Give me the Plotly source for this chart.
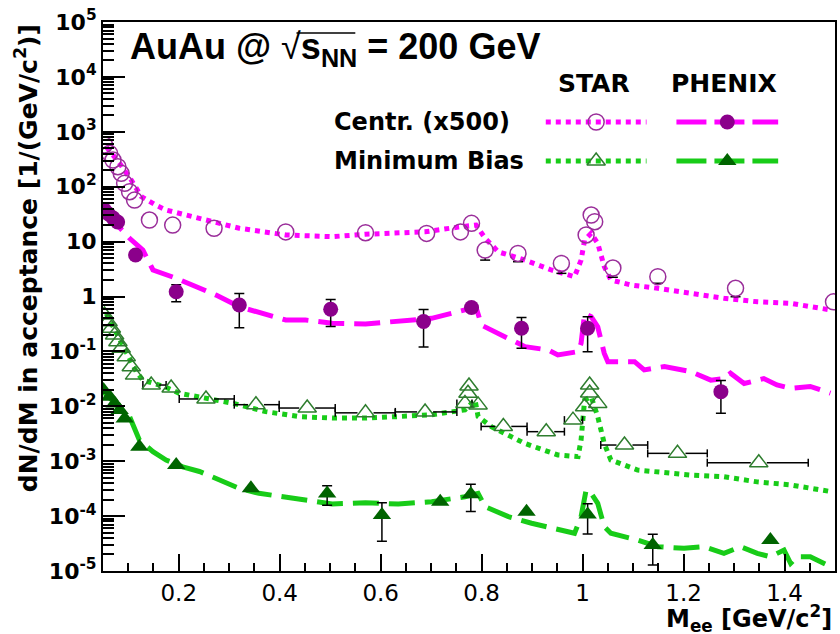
import plotly.graph_objects as go

# ---------------- data ----------------
# STAR central (x500), open circles
star_cen_x = [0.053, 0.063, 0.0697, 0.0795, 0.086, 0.0928, 0.1026, 0.1125, 0.142, 0.188,
              0.270, 0.412, 0.570, 0.691, 0.758, 0.780, 0.807, 0.872, 0.958, 1.007,
              1.017, 1.024, 1.060, 1.149, 1.303, 1.497]
star_cen_y = [575, 405, 306, 231, 175, 115, 81, 57, 24.7, 20,
              17.5, 15, 14.5, 14.1, 15, 21.5, 7.0, 6.1, 4.0, 13.2,
              30.5, 23, 3.3, 2.3, 1.41, 0.80]
star_cen_lo = [None] * 16 + [4.6, 4.3, 2.64, None, None, None, 2.24, 1.74, 0.99, None]

# STAR central cocktail
star_cen_cx = [0.057, 0.083, 0.106, 0.126, 0.155, 0.175, 0.228, 0.267, 0.320, 0.412,
               0.504, 0.570, 0.688, 0.754, 0.789, 0.807, 0.833, 0.886, 0.938, 0.984,
               0.997, 1.004, 1.017, 1.030, 1.043, 1.056, 1.096, 1.149, 1.214, 1.280,
               1.346, 1.412, 1.491]
star_cen_cy = [525, 267, 132, 66, 46, 37.6, 28.4, 23, 17.5, 13.2,
               12.3, 13.6, 15.1, 18.4, 20, 11.5, 6.5, 4.6, 3.04, 2.3,
               4.6, 10.7, 14.2, 9.3, 3.5, 2.0, 1.62, 1.41, 1.14, 0.93,
               0.80, 0.75, 0.57]

# PHENIX central (x500), filled circles
phx_cen_x = [0.053, 0.061, 0.070, 0.079, 0.1145, 0.195, 0.320, 0.501, 0.685, 0.780,
             0.879, 1.010, 1.274]
phx_cen_y = [37.7, 31.8, 26.9, 22.8, 5.7, 1.22, 0.70, 0.585, 0.35, 0.63,
             0.264, 0.264, 0.0185]
phx_cen_err = [0, 0, 0, 0, 0, 0.42, 0.43, 0.30, 0.23, 0,
               0.15, 0.165, 0.011]

# PHENIX central cocktail
phx_cen_cx = [0.053, 0.063, 0.1026, 0.129, 0.149, 0.195, 0.241, 0.274, 0.320, 0.412,
              0.451, 0.504, 0.570, 0.635, 0.701, 0.767, 0.789, 0.800, 0.833, 0.859,
              0.886, 0.932, 0.951, 0.991, 0.997, 1.004, 1.017, 1.030, 1.043, 1.050,
              1.103, 1.122, 1.162, 1.214, 1.254, 1.280, 1.293, 1.320, 1.359, 1.385,
              1.412, 1.451, 1.491]
phx_cen_cy = [36, 28.4, 11.5, 7.0, 3.04, 2.15, 1.41, 1.06, 0.65, 0.373,
              0.373, 0.325, 0.316, 0.348, 0.40, 0.57, 0.63, 0.30, 0.214, 0.162,
              0.122, 0.106, 0.086, 0.099, 0.14, 0.49, 0.43, 0.28, 0.092, 0.065,
              0.065, 0.046, 0.053, 0.043, 0.030, 0.032, 0.040, 0.026, 0.032, 0.0245,
              0.0213, 0.023, 0.0173]

# STAR minimum bias, open triangles with mass-bin widths
star_mb_x = [0.053, 0.060, 0.0665, 0.073, 0.0795, 0.086, 0.096, 0.106, 0.1125, 0.1455,
             0.185, 0.254, 0.353, 0.4545, 0.570, 0.688, 0.767, 0.775, 0.773, 0.793,
             0.843, 0.928, 0.981, 1.004, 1.014, 1.014, 1.030, 1.083, 1.188, 1.349]
star_mb_y = [0.46, 0.348, 0.264, 0.199, 0.150, 0.114, 0.080, 0.0526, 0.037, 0.0244,
             0.0216, 0.0136, 0.0107, 0.0093, 0.0076, 0.0079, 0.0113, 0.0234, 0.0173, 0.0106,
             0.0043, 0.00345, 0.0056, 0.0098, 0.0245, 0.0175, 0.0113, 0.00197, 0.00139, 0.00094]
star_mb_xlo = [None] * 9 + [0.129, None, 0.201, 0.310, 0.399, 0.510, 0.629, 0.751,
                            None, None, None, 0.799, 0.890, 0.964, None, None, None,
                            None, 1.036, 1.129, 1.247]
star_mb_xhi = [None] * 9 + [0.175, None, 0.310, 0.399, 0.510, 0.629, 0.751, 0.781,
                            None, None, None, 0.890, 0.964, 1.000, None, None, None,
                            None, 1.129, 1.247, 1.447]

# STAR minimum bias cocktail
star_mb_cx = [0.0566, 0.116, 0.129, 0.175, 0.201, 0.241, 0.3065, 0.372, 0.438, 0.504,
              0.570, 0.635, 0.701, 0.767, 0.787, 0.793, 0.820, 0.886, 0.951, 0.991,
              0.997, 1.004, 1.017, 1.030, 1.043, 1.056, 1.109, 1.214, 1.280, 1.346,
              1.412, 1.491]
star_mb_cy = [0.49, 0.0427, 0.030, 0.0222, 0.0173, 0.015, 0.0114, 0.0080, 0.0065, 0.0061,
              0.0061, 0.0065, 0.0070, 0.0086, 0.013, 0.0065, 0.0042, 0.0021, 0.0013, 0.00121,
              0.00243, 0.013, 0.015, 0.0065, 0.0021, 0.00105, 0.00069, 0.00056, 0.00052, 0.00042,
              0.00037, 0.00028]

# PHENIX minimum bias, filled triangles
phx_mb_x = [0.051, 0.063, 0.073, 0.083, 0.093, 0.122, 0.195, 0.343, 0.494, 0.6025,
            0.718, 0.7786, 0.889, 1.010, 1.139, 1.372]
phx_mb_y = [0.0198, 0.015, 0.0113, 0.0086, 0.0060, 0.00184, 0.00085, 0.00032, 0.000258, 0.000105,
            0.000183, 0.000251, 0.00012, 0.000107, 0.0000298, 0.0000367]
phx_mb_err = [0, 0, 0, 0, 0, 0, 0, 0, 0.0001, 0.00007,
              0, 0.00013, 0, 0.00006, 0.000017, 0]

# PHENIX minimum bias cocktail
phx_mb_cx = [0.0513, 0.1026, 0.122, 0.149, 0.175, 0.208, 0.241, 0.280, 0.320, 0.359,
             0.412, 0.451, 0.504, 0.570, 0.635, 0.701, 0.767, 0.793, 0.807, 0.853,
             0.899, 0.951, 0.984, 0.997, 1.007, 1.017, 1.030, 1.043, 1.056, 1.109,
             1.149, 1.201, 1.241, 1.280, 1.313, 1.346, 1.372, 1.399, 1.412, 1.425,
             1.451, 1.491]
phx_mb_cy = [0.018, 0.0065, 0.00243, 0.00149, 0.00105, 0.00079, 0.00065, 0.00046, 0.00032, 0.00026,
             0.000225, 0.000196, 0.000166, 0.000175, 0.000166, 0.000183, 0.000225, 0.00026, 0.000148, 0.0000977,
             0.0000741, 0.0000559, 0.0000486, 0.0000977, 0.000299, 0.00026, 0.000171, 0.0000641, 0.0000486, 0.0000367,
             0.0000277, 0.0000259, 0.0000277, 0.000021, 0.0000277, 0.000021, 0.0000182, 0.0000241, 0.0000138, 0.0000182,
             0.0000182, 0.000012]

# axis ticks
x_ticks = [0.2, 0.4, 0.6, 0.8, 1.0, 1.2, 1.4]
x_ticktext = ["0.2", "0.4", "0.6", "0.8", "1", "1.2", "1.4"]
y_ticks = [1e5, 1e4, 1e3, 1e2, 10, 1, 1e-1, 1e-2, 1e-3, 1e-4, 1e-5]
y_ticktext = ["<b>10<sup>5</sup></b>", "<b>10<sup>4</sup></b>", "<b>10<sup>3</sup></b>",
              "<b>10<sup>2</sup></b>", "<b>10</b>", "<b>1</b>",
              "<b>10<sup>-1</sup></b>", "<b>10<sup>-2</sup></b>", "<b>10<sup>-3</sup></b>",
              "<b>10<sup>-4</sup></b>", "<b>10<sup>-5</sup></b>"]

# ---------------- styling ----------------
W, H = 840, 634
ML, MR, MT, MB = 103, 3, 22, 63
PLOT_W = W - ML - MR
PLOT_H = H - MT - MB
X0, X1 = 0.05, 1.5
PX_PER_DEC = PLOT_H / 10.0
PX_PER_X = PLOT_W / (X1 - X0)

MAGENTA = "#FF00FF"
PURPLE_OPEN = "#9A2E9A"
PURPLE_FILL = "#8B008B"
GREEN = "#18CC18"
GREEN_OPEN = "#2E7D2E"
GREEN_FILL = "#006400"
FONT = "DejaVu Sans"

CIRCLE_R = 8
TRI_R = 8


def lower_bar_segments(xs, ys, lows, r_px, cap_px=5):
    """Vertical error bars drawn only below the (hollow) marker, ROOT style."""
    sx, sy = [], []
    dx = cap_px / PX_PER_X
    for x, y, lo in zip(xs, ys, lows):
        if lo is None:
            continue
        top = y * 10 ** (-r_px / PX_PER_DEC)
        sx += [x, x, None, x - dx, x + dx, None]
        sy += [top, lo, None, lo, lo, None]
    return sx, sy


def horiz_bar_segments(xs, ys, xlo, xhi, r_px, cap_px=4):
    """Horizontal bin-width bars interrupted by the hollow marker, with end ticks."""
    sx, sy = [], []
    gap = r_px / PX_PER_X
    f = 10 ** (cap_px / PX_PER_DEC)
    for x, y, a, b in zip(xs, ys, xlo, xhi):
        if a is None:
            continue
        if x - gap > a:
            sx += [a, x - gap, None]
            sy += [y, y, None]
        if x + gap < b:
            sx += [x + gap, b, None]
            sy += [y, y, None]
        sx += [a, a, None, b, b, None]
        sy += [y / f, y * f, None, y / f, y * f, None]
    return sx, sy


fig = go.Figure()

# cocktails
fig.add_trace(go.Scatter(x=star_cen_cx, y=star_cen_cy, mode="lines",
                         line=dict(color=MAGENTA, width=5, dash="dot"), hoverinfo="skip"))
fig.add_trace(go.Scatter(x=phx_cen_cx, y=phx_cen_cy, mode="lines",
                         line=dict(color=MAGENTA, width=5, dash="26px,10px"), hoverinfo="skip"))
fig.add_trace(go.Scatter(x=star_mb_cx, y=star_mb_cy, mode="lines",
                         line=dict(color=GREEN, width=5, dash="dot"), hoverinfo="skip"))
fig.add_trace(go.Scatter(x=phx_mb_cx, y=phx_mb_cy, mode="lines",
                         line=dict(color=GREEN, width=5, dash="26px,10px"), hoverinfo="skip"))

# STAR error bars
ex, ey = lower_bar_segments(star_cen_x, star_cen_y, star_cen_lo, CIRCLE_R)
fig.add_trace(go.Scatter(x=ex, y=ey, mode="lines", line=dict(color="black", width=1.5),
                         hoverinfo="skip"))
hx, hy = horiz_bar_segments(star_mb_x, star_mb_y, star_mb_xlo, star_mb_xhi, TRI_R)
fig.add_trace(go.Scatter(x=hx, y=hy, mode="lines", line=dict(color="black", width=1.5),
                         hoverinfo="skip"))

# data points
open_circle = dict(symbol="circle-open", size=2 * CIRCLE_R, color=PURPLE_OPEN,
                   line=dict(color=PURPLE_OPEN, width=1.5))
filled_circle = dict(symbol="circle", size=15, color=PURPLE_FILL)
open_tri = dict(symbol="triangle-up-open", size=16, color=GREEN_OPEN,
                line=dict(color=GREEN_OPEN, width=1.5))
filled_tri = dict(symbol="triangle-up", size=16, color=GREEN_FILL)

fig.add_trace(go.Scatter(x=star_cen_x, y=star_cen_y, mode="markers", marker=open_circle))
fig.add_trace(go.Scatter(x=phx_cen_x, y=phx_cen_y, mode="markers",
                         error_y=dict(type="data", array=phx_cen_err, color="black",
                                      thickness=1.5, width=5),
                         marker=filled_circle))
fig.add_trace(go.Scatter(x=star_mb_x, y=star_mb_y, mode="markers", marker=open_tri))
fig.add_trace(go.Scatter(x=phx_mb_x, y=phx_mb_y, mode="markers",
                         error_y=dict(type="data", array=phx_mb_err, color="black",
                                      thickness=1.5, width=5),
                         marker=filled_tri))

# ---------------- legend block (pixel-coordinate overlay axes) ----------------
leg_rows = [122, 161]
star_seg = [547, 648]
phx_seg = [678, 780]
for row, col in zip(leg_rows, [MAGENTA, GREEN]):
    fig.add_trace(go.Scatter(x=star_seg, y=[row] * 2, xaxis="x2", yaxis="y2", mode="lines",
                             line=dict(color=col, width=5, dash="dot"), hoverinfo="skip"))
    fig.add_trace(go.Scatter(x=phx_seg, y=[row] * 2, xaxis="x2", yaxis="y2", mode="lines",
                             line=dict(color=col, width=5, dash="30px,8px"), hoverinfo="skip"))
star_mid = sum(star_seg) / 2
phx_mid = sum(phx_seg) / 2
fig.add_trace(go.Scatter(x=[star_mid], y=[leg_rows[0]], xaxis="x2", yaxis="y2",
                         mode="markers", marker=open_circle))
fig.add_trace(go.Scatter(x=[phx_mid], y=[leg_rows[0]], xaxis="x2", yaxis="y2",
                         mode="markers", marker=filled_circle))
fig.add_trace(go.Scatter(x=[star_mid], y=[leg_rows[1]], xaxis="x2", yaxis="y2",
                         mode="markers", marker=open_tri))
fig.add_trace(go.Scatter(x=[phx_mid], y=[leg_rows[1]], xaxis="x2", yaxis="y2",
                         mode="markers", marker=filled_tri))

annotations = [
    dict(x=128, y=49, xref="x2", yref="y2", xanchor="left", yanchor="middle", showarrow=False,
         text="<b>AuAu @ </b><span style='font-weight:normal'>√</span><b>s<sub>NN</sub> = 200 GeV</b>",
         font=dict(family="Liberation Sans, Arial", size=36, color="black")),
    dict(x=595, y=83, xref="x2", yref="y2", xanchor="center", yanchor="middle", showarrow=False,
         text="<b>STAR</b>", font=dict(family=FONT, size=25, color="black")),
    dict(x=726, y=83, xref="x2", yref="y2", xanchor="center", yanchor="middle", showarrow=False,
         text="<b>PHENIX</b>", font=dict(family=FONT, size=25, color="black")),
    dict(x=333, y=leg_rows[0], xref="x2", yref="y2", xanchor="left", yanchor="middle", showarrow=False,
         text="<b>Centr. (x500)</b>", font=dict(family=FONT, size=24, color="black")),
    dict(x=333, y=leg_rows[1], xref="x2", yref="y2", xanchor="left", yanchor="middle", showarrow=False,
         text="<b>Minimum Bias</b>", font=dict(family=FONT, size=24, color="black")),
    dict(x=(26 - ML) / PLOT_W, y=(H - MB - 258) / PLOT_H, xref="paper", yref="paper",
         xanchor="center", yanchor="middle", showarrow=False, textangle=-90,
         text="<b>dN/dM in acceptance [1/(GeV/c<sup>2</sup>)]</b>",
         font=dict(family=FONT, size=25, color="black")),
    dict(x=(836 - ML) / PLOT_W, y=(H - MB - 618) / PLOT_H, xref="paper", yref="paper",
         xanchor="right", yanchor="middle", showarrow=False,
         text="<b>M<sub>ee</sub> [GeV/c<sup>2</sup>]</b>",
         font=dict(family=FONT, size=24, color="black")),
]

shapes = [
    # overline of the square root
    dict(type="line", xref="x2", yref="y2", x0=297, x1=356, y0=33, y1=33,
         line=dict(color="black", width=1.5)),
]

fig.update_layout(
    width=W, height=H,
    margin=dict(l=ML, r=MR, t=MT, b=MB),
    paper_bgcolor="white", plot_bgcolor="white",
    showlegend=False,
    annotations=annotations,
    shapes=shapes,
    xaxis=dict(range=[X0, X1], showgrid=False, zeroline=False,
               showline=True, linecolor="black", linewidth=2, mirror=True,
               ticks="inside", ticklen=17, tickwidth=1.5, tickcolor="black",
               tickvals=x_ticks, ticktext=x_ticktext,
               tickfont=dict(family=FONT, size=23, color="black"),
               minor=dict(ticks="inside", ticklen=8, tickwidth=1.5, tickcolor="black",
                          dtick=0.05, tick0=0.0, showgrid=False)),
    yaxis=dict(type="log", range=[-5, 5], showgrid=False, zeroline=False,
               showline=True, linecolor="black", linewidth=2, mirror=True,
               ticks="inside", ticklen=22, tickwidth=1.5, tickcolor="black",
               tickvals=y_ticks, ticktext=y_ticktext,
               tickfont=dict(family=FONT, size=22, color="black"),
               minor=dict(ticks="inside", ticklen=11, tickwidth=1.5, tickcolor="black",
                          dtick="D1", showgrid=False)),
    xaxis2=dict(overlaying="x", range=[ML, W - MR], visible=False, fixedrange=True),
    yaxis2=dict(overlaying="y", range=[H - MB, MT], visible=False, fixedrange=True),
)

fig.write_html("out.html")
